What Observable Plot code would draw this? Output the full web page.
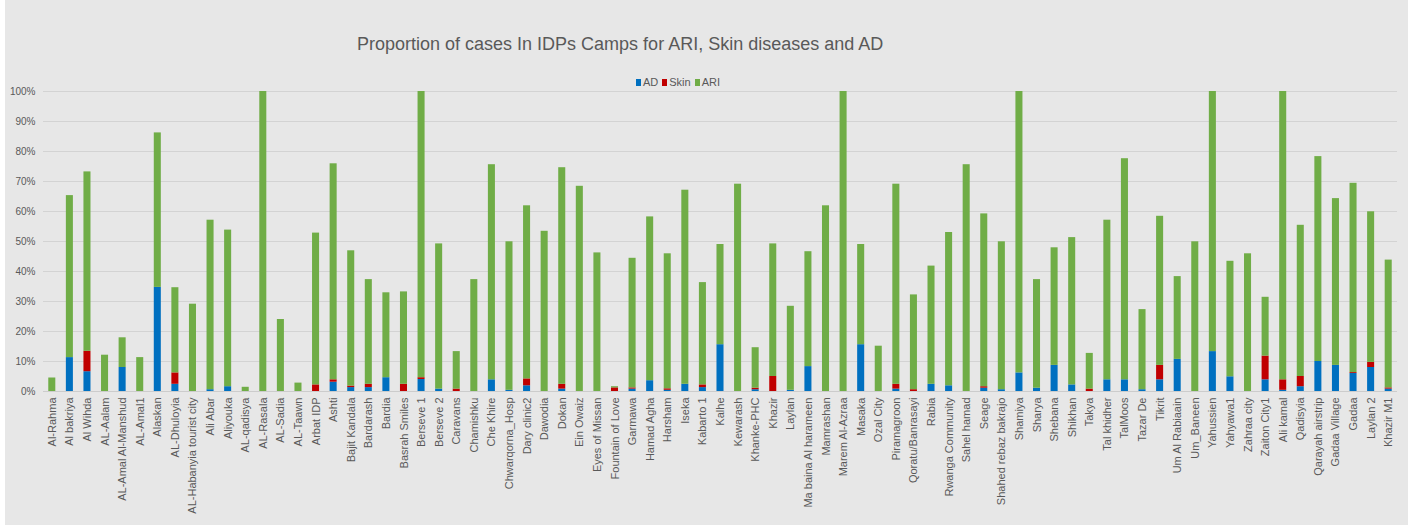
<!DOCTYPE html>
<html>
<head>
<meta charset="utf-8">
<script src="https://cdn.jsdelivr.net/npm/d3@7"></script>
<script src="https://cdn.jsdelivr.net/npm/@observablehq/plot@0.6"></script>
<style>
  html, body { margin: 0; padding: 0; background: #ffffff; }
  #chart { position: relative; margin-left: 5px; width: 1403px; height: 525px; background: #e7e7e7; overflow: hidden;
           font-family: "Liberation Sans", Arial, sans-serif; color: #595959; }
  #title { padding-top: 33px; height: 22px; line-height: 22px; font-size: 18px; padding-left: 352px; white-space: nowrap; }
  #legend { margin-top: 22px; height: 11px; line-height: 11px; font-size: 11px; padding-left: 631px; white-space: nowrap; position: relative; z-index: 2; }
  #legend span.item { display: inline-block; margin-right: 4px; }
  #legend span.sw { display: inline-block; width: 5px; height: 7px; margin-right: 2px; vertical-align: 0px; }
  #plot { margin-top: -10px; }
  svg { display: block; }
  svg g[aria-label="x-axis tick label"] text { font-size: 11px; }
</style>
</head>
<body>
<div id="chart">
  <div id="title">Proportion of cases In IDPs Camps for ARI, Skin diseases and AD</div>
  <div id="legend"></div>
  <div id="plot"></div>
</div>
<script>
const categories = [
  "Al-Rahma","Al bakriya","Al Wihda","AL-Aalam","AL-Amal Al-Manshud","AL-Amal1","Alaskan","AL-Dhuloyia",
  "AL-Habanyia tourist city","Ali Abar","Aliyouka","AL-qadisya","AL-Rasala","AL-Sadia","AL-Taawn","Arbat IDP",
  "Ashti","Bajit Kandala","Bardarash","Bardia","Basrah Smiles","Berseve 1","Berseve 2","Caravans","Chamishku",
  "Che Khire","Chwarqorna_Hosp","Dary clinic2","Dawodia","Dokan","Ein Owaiz","Eyes of Missan","Fountain of Love",
  "Garmawa","Hamad Agha","Harsham","Iseka","Kabarto 1","Kalhe","Kewarash","Khanke-PHC","Khazir","Laylan",
  "Ma baina Al harameen","Mamrashan","Marem Al-Azraa","Masaka","Ozal City","Piramagroon","Qoratu/Banrasayi",
  "Rabia","Rwanga Community","Sahel hamad","Seage","Shahed rebaz bakrajo","Shamiya","Sharya","Shebana","Shikhan",
  "Takya","Tal khidher","TalMoos","Tazar De","Tikrit","Um Al Rabiaain","Um_Baneen","Yahussien","Yahyawa1",
  "Zahraa city","Zaiton City1","Ali kamal","Qadisyia","Qarayah airstrip","Gadaa Village","Gadaa","Laylan 2","Khazir M1"
];
const seriesNames = ["AD", "Skin", "ARI"];
const seriesColors = ["#0070c0", "#c00000", "#70ad47"];
// percentages
const AD = [
  0, 11.3, 6.6, 0, 8.0, 0, 34.7, 2.4,
  0, 0.6, 1.6, 0, 0, 0, 0, 0,
  3.1, 1.3, 1.3, 4.6, 0, 4.0, 0.8, 0, 0,
  3.9, 0.4, 1.9, 0, 0.8, 0, 0, 0,
  0.8, 3.6, 0.4, 2.4, 1.3, 15.6, 0, 0.6, 0, 0.4,
  8.3, 0, 0, 15.6, 0, 0.8, 0,
  2.4, 1.9, 0, 1.1, 0.6, 6.2, 1.1, 8.7, 2.2,
  0, 3.9, 3.9, 0.6, 3.9, 10.7, 0, 13.3, 4.9,
  0, 3.9, 0.4, 1.6, 10.0, 8.7, 6.0, 8.0, 0.8
];
const Skin = [
  0, 0, 6.8, 0, 0, 0, 0, 3.8,
  0, 0, 0, 0, 0, 0, 0, 2.2,
  0.8, 0.5, 1.1, 0, 2.4, 0.6, 0, 0.8, 0,
  0, 0, 2.3, 0, 1.6, 0, 0, 1.2,
  0.4, 0, 0.5, 0, 0.9, 0, 0, 0.5, 5.0, 0,
  0, 0, 0, 0, 0, 1.6, 0.6,
  0, 0, 0, 0.5, 0, 0, 0, 0, 0,
  0.8, 0, 0, 0, 4.8, 0, 0, 0, 0,
  0, 7.9, 3.5, 3.4, 0, 0, 0.3, 1.7, 0.4
];
const ARI = [
  4.5, 54.0, 59.8, 12.1, 9.9, 11.3, 51.5, 28.4,
  29.1, 56.5, 52.2, 1.4, 100, 24.0, 2.8, 50.6,
  72.0, 45.1, 34.9, 28.3, 30.8, 95.4, 48.4, 12.5, 37.3,
  71.7, 49.5, 57.7, 53.4, 72.2, 68.4, 46.2, 0.4,
  43.2, 54.6, 45.0, 64.7, 34.1, 33.4, 69.1, 13.5, 44.2, 28.0,
  38.3, 61.9, 100, 33.4, 15.1, 66.7, 31.6,
  39.4, 51.1, 75.6, 57.6, 49.3, 93.8, 36.2, 39.2, 49.1,
  11.9, 53.2, 73.7, 26.7, 49.7, 27.6, 49.9, 86.7, 38.5,
  45.9, 19.6, 96.1, 50.4, 68.3, 55.6, 63.1, 50.2, 42.6
];
const yTicks = [0, 10, 20, 30, 40, 50, 60, 70, 80, 90, 100];

const seriesValues = [AD, Skin, ARI];
const data = categories.flatMap((c, i) =>
  seriesNames.map((s, k) => ({camp: c, series: s, value: seriesValues[k][i]}))
);

// legend
const legend = document.getElementById("legend");
seriesNames.forEach((s, k) => {
  const it = document.createElement("span");
  it.className = "item";
  it.innerHTML = `<span class="sw" style="background:${seriesColors[k]}"></span>${s}`;
  legend.appendChild(it);
});

const chart = Plot.plot({
  width: 1403,
  height: 447,
  marginLeft: 38,
  marginRight: 11,
  marginTop: 13,
  marginBottom: 134,
  style: {background: "transparent", fontFamily: "'Liberation Sans', Arial, sans-serif", fontSize: "10px", color: "#595959"},
  x: {domain: categories, paddingInner: 0.6, paddingOuter: 0.3, label: null, tickSize: 0, tickRotate: -90, tickPadding: 6},
  y: {domain: [0, 100], ticks: yTicks, tickFormat: d => d + "%", label: null, tickSize: 0, tickPadding: 8},
  color: {domain: seriesNames, range: seriesColors},
  marks: [
    Plot.gridY(yTicks, {stroke: "#d3d3d3", strokeOpacity: 1}),
    Plot.barY(data, {x: "camp", y: "value", fill: "series", order: seriesNames}),
    Plot.ruleY([0], {stroke: "#cccccc"})
  ]
});
document.getElementById("plot").appendChild(chart);
</script>
</body>
</html>
